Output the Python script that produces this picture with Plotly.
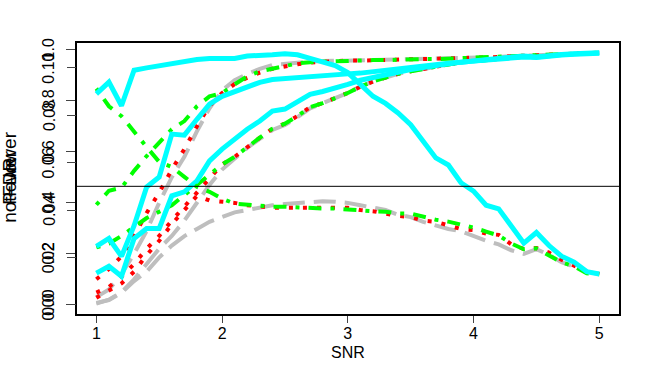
import plotly.graph_objects as go

# SNR grid
snr = [round(1 + 0.1 * i, 1) for i in range(41)]

# cyan (solid) method
cyan_power = [0.124, 0.151, 0.112, 0.260, 0.299, 0.299, 0.427, 0.443, 0.486, 0.564, 0.610, 0.649, 0.688, 0.720,
              0.759, 0.767, 0.794, 0.825, 0.836, 0.848, 0.864, 0.880, 0.891, 0.899, 0.911, 0.922, 0.930, 0.938,
              0.946, 0.951, 0.955, 0.959, 0.963, 0.967, 0.971, 0.969, 0.975, 0.979, 0.982, 0.984, 0.986]
cyan_notlower = [0.229, 0.260, 0.190, 0.310, 0.462, 0.501, 0.669, 0.665, 0.727, 0.786, 0.817, 0.836, 0.856, 0.872,
                 0.883, 0.887, 0.893, 0.895, 0.899, 0.903, 0.905, 0.908, 0.914, 0.920, 0.926, 0.930, 0.936, 0.942,
                 0.947, 0.951, 0.955, 0.961, 0.965, 0.971, 0.975, 0.971, 0.977, 0.981, 0.984, 0.986, 0.988]
cyan_fdr = [0.089, 0.094, 0.084, 0.099, 0.100, 0.101, 0.102, 0.103, 0.1035, 0.104, 0.104, 0.104, 0.105, 0.105,
            0.1055, 0.106, 0.1055, 0.104, 0.1025, 0.101, 0.098, 0.093, 0.088, 0.085, 0.081, 0.076, 0.069, 0.062,
            0.059, 0.0515, 0.048, 0.042, 0.0405, 0.033, 0.026, 0.0305, 0.025, 0.0205, 0.018, 0.014, 0.013]

# green (dot-dash) method
green_power = [0.225, 0.240, 0.270, 0.305, 0.340, 0.365, 0.390, 0.430, 0.470, 0.510, 0.550, 0.580, 0.620, 0.655,
               0.690, 0.710, 0.740, 0.775, 0.790, 0.810, 0.830, 0.855, 0.875, 0.890, 0.905, 0.915, 0.925, 0.935,
               0.942, 0.950, 0.955, 0.960, 0.965, 0.968, 0.972, 0.975, 0.978, 0.980, 0.983, 0.985, 0.988]
green_notlower = [0.392, 0.447, 0.459, 0.525, 0.583, 0.634, 0.688, 0.720, 0.778, 0.817, 0.829, 0.864, 0.895, 0.915,
                  0.926, 0.938, 0.946, 0.951, 0.953, 0.955, 0.957, 0.957, 0.959, 0.959, 0.961, 0.961, 0.963, 0.963,
                  0.965, 0.965, 0.967, 0.969, 0.973, 0.975, 0.977, 0.979, 0.981, 0.982, 0.984, 0.986, 0.988]
green_fdr = [0.0913, 0.0838, 0.0796, 0.0729, 0.0666, 0.0603, 0.0582, 0.0540, 0.0498, 0.0477, 0.0448, 0.0427, 0.0422,
             0.0418, 0.0414, 0.0414, 0.0410, 0.0410, 0.0406, 0.0406, 0.0401, 0.0399, 0.0395, 0.0393, 0.0385, 0.0385,
             0.0372, 0.0359, 0.0351, 0.0339, 0.0326, 0.0309, 0.0292, 0.0259, 0.0234, 0.0238, 0.0209, 0.0179, 0.0162,
             0.0133, 0.0129]

# red (dotted) method
red_power = [0.048, 0.070, 0.110, 0.160, 0.220, 0.270, 0.330, 0.385, 0.440, 0.500, 0.550, 0.580, 0.620, 0.655,
             0.690, 0.710, 0.740, 0.775, 0.790, 0.810, 0.830, 0.855, 0.875, 0.890, 0.905, 0.915, 0.925, 0.935,
             0.942, 0.950, 0.955, 0.960, 0.965, 0.968, 0.972, 0.975, 0.978, 0.980, 0.983, 0.985, 0.988]
red_notlower = [0.100, 0.140, 0.190, 0.270, 0.360, 0.440, 0.530, 0.610, 0.700, 0.780, 0.830, 0.865, 0.890, 0.910,
                0.925, 0.935, 0.943, 0.949, 0.952, 0.955, 0.957, 0.957, 0.958, 0.959, 0.960, 0.961, 0.962, 0.963,
                0.964, 0.965, 0.966, 0.968, 0.971, 0.974, 0.976, 0.978, 0.980, 0.982, 0.984, 0.986, 0.988]
red_fdr = [0.003, 0.006, 0.009, 0.014, 0.021, 0.027, 0.034, 0.040, 0.046, 0.044, 0.0435, 0.043, 0.042, 0.0415,
           0.041, 0.041, 0.041, 0.041, 0.041, 0.041, 0.041, 0.040, 0.0395, 0.0385, 0.0375, 0.037, 0.0355, 0.035,
           0.0335, 0.032, 0.0315, 0.030, 0.0295, 0.0255, 0.0235, 0.024, 0.022, 0.019, 0.0165, 0.014, 0.013]

# grey (long dash) method
grey_power = [0.005, 0.020, 0.050, 0.100, 0.160, 0.220, 0.270, 0.330, 0.400, 0.470, 0.530, 0.575, 0.615, 0.650,
              0.685, 0.705, 0.735, 0.770, 0.790, 0.810, 0.830, 0.855, 0.875, 0.890, 0.905, 0.915, 0.925, 0.935,
              0.942, 0.950, 0.955, 0.960, 0.965, 0.968, 0.972, 0.975, 0.978, 0.980, 0.983, 0.985, 0.988]
grey_notlower = [0.030, 0.060, 0.120, 0.200, 0.290, 0.400, 0.500, 0.580, 0.680, 0.770, 0.840, 0.880, 0.905, 0.925,
                 0.940, 0.945, 0.950, 0.953, 0.955, 0.956, 0.957, 0.957, 0.958, 0.959, 0.960, 0.961, 0.962, 0.963,
                 0.964, 0.965, 0.966, 0.968, 0.971, 0.974, 0.976, 0.978, 0.980, 0.982, 0.984, 0.986, 0.988]
grey_fdr = [0.0008, 0.002, 0.005, 0.010, 0.014, 0.020, 0.025, 0.029, 0.032, 0.035, 0.037, 0.039, 0.040, 0.041,
            0.042, 0.0425, 0.043, 0.0435, 0.0437, 0.0435, 0.043, 0.042, 0.041, 0.040, 0.038, 0.037, 0.035, 0.0335,
            0.032, 0.031, 0.029, 0.027, 0.0255, 0.023, 0.0215, 0.0235, 0.021, 0.018, 0.016, 0.014, 0.013]

fdr_level = 0.05

# tick labels for the two overlaid y axes
power_ticks = [0, 0.2, 0.4, 0.6, 0.8, 1.0]
power_labels = ["0.0", "0.2", "0.4", "0.6", "0.8", "1.0"]
fdr_ticks = [0, 0.02, 0.04, 0.06, 0.08, 0.10]
fdr_labels = ["0.00", "0.02", "0.04", "0.06", "0.08", "0.10"]
y_titles = ["not\u2014lower", "FDR", "Power"]

styles = {
    "grey": dict(color="#BEBEBE", width=4, dash="22px,9px"),
    "red": dict(color="#FF0000", width=4, dash="4px,10px"),
    "green": dict(color="#00FF00", width=4, dash="4px,9px,13px,9px"),
    "cyan": dict(color="#00FFFF", width=5, dash="solid"),
}

series = [
    ("grey", grey_power, grey_notlower, grey_fdr),
    ("red", red_power, red_notlower, red_fdr),
    ("green", green_power, green_notlower, green_fdr),
    ("cyan", cyan_power, cyan_notlower, cyan_fdr),
]

fig = go.Figure()
for name, pw, nl, fd in series:
    fig.add_trace(go.Scatter(x=snr, y=pw, mode="lines", line=styles[name], yaxis="y"))
    fig.add_trace(go.Scatter(x=snr, y=nl, mode="lines", line=styles[name], yaxis="y"))
    fig.add_trace(go.Scatter(x=snr, y=fd, mode="lines", line=styles[name], yaxis="y2"))

fig.add_shape(type="line", xref="paper", x0=0, x1=1, yref="y2", y0=fdr_level, y1=fdr_level,
              line=dict(color="black", width=1))

narrow = "Liberation Sans Narrow, Liberation Sans, Arial"

fig.update_layout(
    width=659, height=371,
    margin=dict(l=77, r=40, t=43, b=55),
    paper_bgcolor="white", plot_bgcolor="white",
    showlegend=False,
    font=dict(family="Liberation Sans, Arial", size=15, color="black"),
    xaxis=dict(range=[0.846, 5.157], tickvals=[1, 2, 3, 4, 5], ticks="outside", ticklen=7,
               showline=True, mirror=True, linecolor="black", linewidth=1.5, showgrid=False,
               zeroline=False, tickfont=dict(family="Liberation Sans, Arial", size=16),
               ticklabelstandoff=-3,
               title=dict(text="SNR", font=dict(family="Liberation Sans, Arial", size=16), standoff=6)),
    yaxis=dict(range=[-0.036, 1.026], tickvals=power_ticks, showticklabels=False,
               ticks="outside", ticklen=9, showline=True, mirror=True, linecolor="black", linewidth=1.5,
               showgrid=False, zeroline=False),
    yaxis2=dict(range=[-0.0039, 0.1105], tickvals=fdr_ticks, showticklabels=False,
                overlaying="y", side="left", anchor="x",
                ticks="outside", ticklen=9, showline=False, showgrid=False, zeroline=False),
)

# rotated y tick labels for both axes, drawn over each other like the original
for yref, vals, labels in [("y", power_ticks, power_labels), ("y2", fdr_ticks, fdr_labels)]:
    for v, lab in zip(vals, labels):
        fig.add_annotation(text=lab, textangle=-90, xref="paper", yref=yref, x=-0.052, y=v,
                           xanchor="center", yanchor="middle", showarrow=False,
                           font=dict(family=narrow, size=16))

# stacked y titles
for label in y_titles:
    fig.add_annotation(text=label, textangle=-90, xref="paper", yref="paper", x=-0.126, y=0.505,
                       xanchor="center", yanchor="middle", showarrow=False,
                       font=dict(family=narrow, size=19))

fig.write_html("out.html", config={"displayModeBar": False},
               post_script="document.body.style.margin='0px';")
